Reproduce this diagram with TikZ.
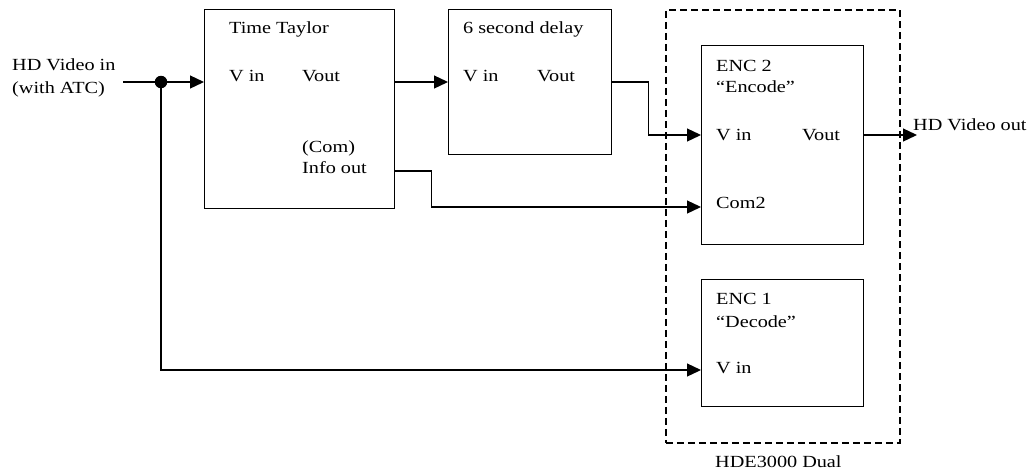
\documentclass[tikz,border=0pt]{standalone}
\usepackage{fontspec}
\setmainfont[FakeStretch=1.19]{Liberation Serif}
\usetikzlibrary{arrows.meta,calc}
\begin{document}
\begin{tikzpicture}[x=1pt,y=-1pt,
  box/.style={draw, line width=1.3pt, anchor=north west, inner sep=0pt},
  grp/.style={draw, line width=1.5pt, dash pattern=on 7pt off 4pt, anchor=north west, inner sep=0pt},
  lbl/.style={anchor=west, inner sep=0pt, text height=11.3pt, text depth=0pt, font=\fontsize{17}{22}\selectfont},
  arr/.style={line width=1.3pt, -{Triangle[length=14pt,width=13pt]}},
  ln/.style={line width=1.3pt},
  dotst/.style={circle, fill, inner sep=0pt, minimum size=12.5pt}]
\useasboundingbox (0,0) rectangle (1029,472);
% boxes
\node[box, minimum width=190, minimum height=199] (tt) at (204,9) {};
\node[box, minimum width=163, minimum height=145] (d6) at (448,9) {};
\node[grp, minimum width=234, minimum height=433] (hde) at (665,9) {};
\node[box, minimum width=162, minimum height=199] (enc2) at (701,45) {};
\node[box, minimum width=162, minimum height=127] (enc1) at (701,279) {};
% labels
\node[lbl] (inA) at (12,65) {HD Video in};
\node[lbl] (inB) at (12,88) {(with ATC)};
\node[lbl] (ttT) at (229,28) {Time Taylor};
\node[lbl] (ttVi) at (229,76) {V in};
\node[lbl] (ttVo) at (302,76) {Vout};
\node[lbl] (ttC) at (302,147) {(Com)};
\node[lbl] (ttI) at (302,168) {Info out};
\node[lbl] (d6T) at (463,28) {6 second delay};
\node[lbl] (d6Vi) at (463,76) {V in};
\node[lbl] (d6Vo) at (537,76) {Vout};
\node[lbl] (e2T) at (716,66) {ENC 2};
\node[lbl] (e2S) at (716,87) {“Encode”};
\node[lbl] (e2Vi) at (716,135) {V in};
\node[lbl] (e2Vo) at (802,135) {Vout};
\node[lbl] (e2C) at (716,203) {Com2};
\node[lbl] (e1T) at (716,299) {ENC 1};
\node[lbl] (e1S) at (716,322) {“Decode”};
\node[lbl] (e1Vi) at (716,368) {V in};
\node[lbl] (outL) at (913,125) {HD Video out};
\node[lbl] (hdeL) at (715,462) {HDE3000 Dual};
% connectors
\coordinate (inS) at (123,82);
\node[dotst] (dot) at (161,82) {};
\draw[ln] (inS) -- (dot);
\draw[arr] (dot) -- (dot -| tt.west);
\draw[arr] (dot -| tt.east) -- (dot -| d6.west);
\draw[arr] (dot -| d6.east) -- ++(36,0) |- ($(enc2.north west)+(0,90)$);
\draw[arr] ($(tt.north east)+(0,162)$) -- ++(36,0) |- ($(enc2.north west)+(0,162)$);
\draw[arr] (dot) |- ($(enc1.north west)+(0,91)$);
\coordinate (outE) at (917,135);
\draw[arr] ($(enc2.north east)+(0,90)$) -- (outE);
\end{tikzpicture}
\end{document}
